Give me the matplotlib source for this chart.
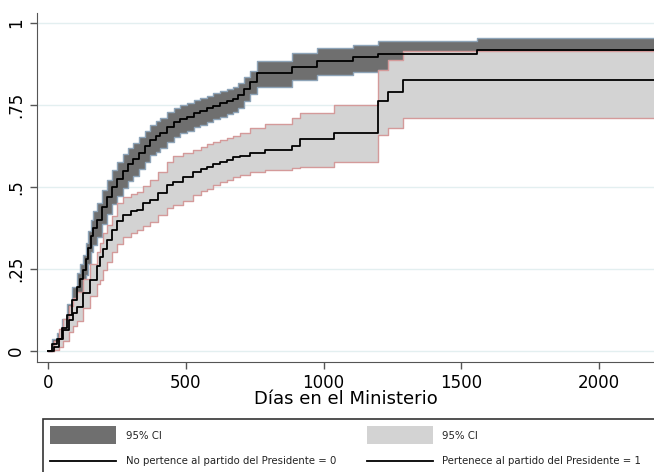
import numpy as np
import matplotlib
matplotlib.use("Agg")
import matplotlib.pyplot as plt
from matplotlib.patches import Rectangle

# Group 0: No pertence al partido del Presidente
t0 = [0, 15, 30, 50, 67, 85, 103, 115, 127, 136, 145, 155, 164, 176, 194, 212,
      230, 250, 270, 290, 309, 330, 350, 370, 390, 406, 430, 455, 480, 503, 530,
      551, 575, 600, 625, 648, 670, 690, 710, 733, 757, 884, 975, 1108, 1199, 1557]
f0 = [0.0, 0.020, 0.035, 0.070, 0.110, 0.155, 0.195, 0.220, 0.246, 0.280, 0.315,
      0.350, 0.375, 0.400, 0.440, 0.470, 0.500, 0.525, 0.550, 0.570, 0.585, 0.605,
      0.625, 0.644, 0.655, 0.665, 0.684, 0.698, 0.708, 0.715, 0.725, 0.732, 0.740,
      0.748, 0.755, 0.762, 0.768, 0.780, 0.800, 0.820, 0.847, 0.867, 0.883, 0.898,
      0.905, 0.918]
lo0 = [0.0, 0.008, 0.018, 0.045, 0.078, 0.117, 0.153, 0.176, 0.200, 0.232, 0.265,
       0.300, 0.324, 0.348, 0.388, 0.418, 0.448, 0.473, 0.498, 0.519, 0.534, 0.555,
       0.576, 0.596, 0.607, 0.618, 0.638, 0.653, 0.664, 0.672, 0.683, 0.690, 0.699,
       0.707, 0.715, 0.722, 0.728, 0.741, 0.762, 0.783, 0.805, 0.825, 0.842, 0.852,
       0.858, 0.870]
hi0 = [0.0, 0.035, 0.055, 0.098, 0.142, 0.193, 0.237, 0.264, 0.292, 0.328, 0.364,
       0.400, 0.426, 0.451, 0.491, 0.521, 0.551, 0.576, 0.600, 0.619, 0.634, 0.653,
       0.672, 0.690, 0.701, 0.710, 0.728, 0.741, 0.750, 0.756, 0.765, 0.772, 0.779,
       0.786, 0.793, 0.799, 0.805, 0.816, 0.835, 0.854, 0.883, 0.908, 0.925, 0.934,
       0.944, 0.955]

# Group 1: Pertenece al partido del Presidente
t1 = [0, 20, 40, 55, 75, 90, 103, 127, 152, 176, 188, 200, 212, 230, 248, 272,
      300, 321, 345, 370, 400, 430, 454, 491, 527, 555, 576, 600, 624, 648, 672,
      697, 733, 787, 884, 915, 1036, 1199, 1235, 1290]
f1 = [0.0, 0.012, 0.035, 0.063, 0.095, 0.115, 0.134, 0.175, 0.216, 0.260, 0.287,
      0.310, 0.338, 0.370, 0.395, 0.415, 0.425, 0.430, 0.450, 0.460, 0.480, 0.505,
      0.515, 0.531, 0.545, 0.555, 0.562, 0.570, 0.577, 0.582, 0.590, 0.595, 0.603,
      0.613, 0.625, 0.646, 0.664, 0.761, 0.791, 0.827]
lo1 = [0.0, 0.002, 0.012, 0.030, 0.058, 0.075, 0.092, 0.130, 0.168, 0.205, 0.216,
       0.245, 0.270, 0.300, 0.325, 0.348, 0.360, 0.368, 0.380, 0.392, 0.415, 0.435,
       0.445, 0.458, 0.475, 0.488, 0.495, 0.505, 0.515, 0.520, 0.531, 0.537, 0.545,
       0.552, 0.557, 0.562, 0.577, 0.659, 0.679, 0.710]
hi1 = [0.0, 0.030, 0.065, 0.098, 0.135, 0.160, 0.180, 0.220, 0.265, 0.300, 0.330,
       0.358, 0.385, 0.412, 0.450, 0.468, 0.478, 0.484, 0.502, 0.521, 0.545, 0.575,
       0.593, 0.603, 0.613, 0.622, 0.630, 0.637, 0.644, 0.649, 0.657, 0.664, 0.679,
       0.692, 0.710, 0.727, 0.750, 0.857, 0.888, 0.915]

t_end = 2200
yticks = [0, 0.25, 0.5, 0.75, 1]
ylabels = ["0", ".25", ".5", ".75", "1"]
xticks = [0, 500, 1000, 1500, 2000]
legend_labels = ["95% CI", "No pertence al partido del Presidente = 0",
                 "95% CI", "Pertenece al partido del Presidente = 1"]


def ext(t, *ys):
    # carry last value to the end of the follow-up
    out = [np.append(t, t_end)]
    for y in ys:
        out.append(np.append(y, y[-1]))
    return out


T0, F0, L0, H0 = ext(t0, f0, lo0, hi0)
T1, F1, L1, H1 = ext(t1, f1, lo1, hi1)

dark = "#6f6f6f"
dark_edge = "#8ea4b8"
light = "#d3d3d3"
light_edge = "#d49a9a"

fig = plt.figure(figsize=(6.54, 4.72), dpi=100)
ax = fig.add_axes([37 / 654, 1 - 362 / 472, 1 - 37 / 654, (362 - 13) / 472])

for y in yticks:
    ax.axhline(y, color="#e3eff0", lw=1, zorder=0)

ax.fill_between(T0, L0, H0, step="post", color=dark, lw=0, zorder=1)
ax.step(T0, L0, where="post", color=dark_edge, lw=1, zorder=1)
ax.step(T0, H0, where="post", color=dark_edge, lw=1, zorder=1)

ax.fill_between(T1, L1, H1, step="post", color=light, lw=0, zorder=2)
ax.step(T1, L1, where="post", color=light_edge, lw=1, zorder=2)
ax.step(T1, H1, where="post", color=light_edge, lw=1, zorder=2)

ax.step(T0, F0, where="post", color="black", lw=1.3, zorder=3)
ax.step(T1, F1, where="post", color="black", lw=1.3, zorder=3)

ax.set_xlim(-41, 2200)
ax.set_ylim(-0.0345, 1.031)
ax.set_xticks(xticks)
ax.set_xticklabels([str(x) for x in xticks], fontsize=12)
ax.set_yticks(yticks)
ax.set_yticklabels(ylabels, fontsize=12, rotation=90, va="center")
ax.tick_params(direction="out", length=5, color="#555555", width=1)
ax.spines["top"].set_visible(False)
ax.spines["right"].set_visible(False)
for s in ["left", "bottom"]:
    ax.spines[s].set_color("#555555")
ax.set_xlabel("Días en el Ministerio", fontsize=13, labelpad=-1)

# legend box drawn in pixel coordinates
lg = fig.add_axes([0, 0, 1, 1], zorder=5)
lg.set_xlim(0, 654)
lg.set_ylim(472, 0)
lg.axis("off")
lg.add_patch(Rectangle((43, 419), 620, 60, facecolor="white",
                       edgecolor="#333333", lw=1.2, clip_on=False))
lg.add_patch(Rectangle((50, 426), 66, 18, facecolor=dark, edgecolor="none"))
lg.add_patch(Rectangle((367, 426), 66, 18, facecolor=light, edgecolor="none"))
lg.plot([50, 116], [461, 461], color="black", lw=1.3)
lg.plot([367, 433], [461, 461], color="black", lw=1.3)
for (x, y), s in zip([(126, 436), (126, 461), (442, 436), (442, 461)], legend_labels):
    lg.text(x, y, s, fontsize=7.3, va="center", ha="left", color="#222222")

fig.savefig("out.png", dpi=100)
